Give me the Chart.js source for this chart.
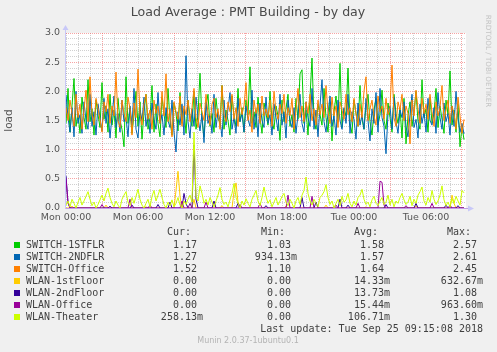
<!DOCTYPE html>
<html>
<head>
<meta charset="utf-8">
<title>Load Average : PMT Building - by day</title>
<script src="https://cdn.jsdelivr.net/npm/chart.js@4.4.0/dist/chart.umd.min.js"></script>
<style>
  html, body { margin: 0; padding: 0; background: #f0f0f0; overflow: hidden; }
  canvas { display: block; }
</style>
</head>
<body>
<canvas id="loadChart" width="497" height="352"></canvas>
<script>
// one sample every 10 minutes, x is hours since Mon 00:00
const sampleStep = 1 / 6;

const seriesNames = ["SWITCH-1STFLR", "SWITCH-2NDFLR", "SWITCH-Office", "WLAN-1stFloor", "WLAN-2ndFloor", "WLAN-Office", "WLAN-Theater"];
const seriesColors = ["#00cc00", "#0066b3", "#ff8000", "#ffcc00", "#330099", "#990099", "#ccff00"];

const switch1stFlr = [
  1.45,2.05,1.30,1.75,2.22,1.40,1.62,1.28,1.90,1.55,1.35,2.20,1.48,1.70,1.25,1.85,1.60,1.38,2.15,1.52,
  1.75,1.30,1.95,1.42,1.68,1.20,1.88,1.50,1.35,1.05,2.25,1.45,1.72,1.28,1.60,2.00,1.40,1.82,1.18,1.65,
  1.95,1.35,1.55,2.10,1.30,1.78,1.45,1.22,1.90,1.60,1.38,2.05,1.50,1.25,1.80,1.62,1.32,1.98,1.45,1.70,
  1.28,1.85,1.55,1.40,2.00,1.35,1.60,2.31,1.50,1.22,1.75,1.95,1.40,1.62,1.30,1.88,1.55,1.45,2.10,1.35,
  1.68,1.50,1.25,1.92,1.58,1.40,2.05,1.48,1.72,1.30,1.85,1.60,2.42,1.45,1.65,1.38,1.90,1.55,1.28,1.80,
  1.62,1.42,2.00,1.50,1.35,1.75,1.58,1.16,1.85,1.48,1.70,1.95,1.40,1.60,1.30,1.88,1.52,2.30,2.37,1.45,
  1.68,1.25,1.90,2.57,1.50,1.35,1.78,1.60,1.42,2.05,1.55,1.30,1.82,1.15,1.65,1.92,1.48,2.48,1.38,1.70,
  1.58,2.40,1.45,1.28,1.85,1.62,1.40,2.10,1.52,1.35,1.75,1.95,1.48,1.25,1.68,1.88,1.42,1.60,2.02,1.50,
  1.35,1.80,1.55,1.30,1.95,1.62,1.45,1.72,1.20,1.88,1.10,1.58,1.82,1.40,1.65,2.00,1.48,1.35,2.20,1.55,
  1.70,1.30,1.90,1.45,1.62,2.05,1.38,1.75,1.52,1.28,1.85,1.60,2.35,1.42,1.68,1.30,1.78,1.05,1.40,1.17
];
const switch2ndFlr = [
  1.94,1.55,1.30,1.72,1.22,2.00,1.45,1.60,1.28,1.82,1.50,1.35,1.95,1.40,1.65,1.25,1.78,1.55,1.32,1.88,
  1.45,1.70,1.20,1.58,1.92,1.38,1.62,1.30,1.85,1.48,1.55,1.22,1.75,1.42,2.05,1.35,1.20,1.68,1.50,1.90,
  1.40,1.62,1.28,1.80,1.52,1.35,1.98,1.45,1.60,1.25,1.72,1.50,1.38,1.85,1.30,0.96,1.65,1.42,1.78,1.25,
  2.61,1.48,1.20,1.70,1.40,1.90,1.55,1.32,1.62,1.12,1.82,1.45,1.58,1.28,1.95,1.38,1.65,1.50,1.22,1.85,
  1.42,1.70,1.98,1.35,1.55,1.28,1.88,1.48,1.62,1.30,1.75,1.52,1.40,2.02,1.35,1.68,1.22,1.80,1.50,1.38,
  1.90,1.45,1.60,1.25,1.78,1.55,1.32,1.95,1.42,1.65,1.20,1.85,1.50,1.38,1.72,1.28,1.60,1.95,1.45,1.30,
  1.82,1.55,1.40,2.05,1.35,1.68,1.22,1.75,2.20,1.48,1.30,1.62,1.92,1.40,1.58,1.25,1.85,1.50,1.35,1.72,
  1.45,1.95,1.28,1.65,1.52,1.18,1.80,1.42,1.60,1.35,1.88,1.50,1.15,1.70,1.45,1.98,1.30,2.05,1.55,1.40,
  0.93,1.62,1.75,1.35,1.90,1.48,1.28,1.68,1.55,1.82,1.40,1.22,1.60,1.95,1.38,1.52,1.20,1.78,1.45,1.65,
  1.30,1.88,1.50,1.42,1.72,1.28,1.98,1.55,1.35,1.80,1.48,1.62,1.25,1.75,1.40,2.00,1.55,1.30,1.45,1.27
];
const switchOffice = [
  1.72,1.50,1.85,1.62,1.40,1.95,1.55,1.78,1.35,1.68,2.02,1.48,2.25,1.60,1.42,1.88,1.70,1.52,1.30,1.82,
  1.65,1.95,1.45,1.75,1.58,2.33,1.50,1.38,1.85,1.62,1.48,1.90,1.70,1.25,1.80,1.55,2.38,1.60,1.42,1.78,
  1.95,1.52,1.68,1.35,1.85,1.62,1.75,1.45,2.00,1.58,2.30,1.48,1.70,1.22,1.82,1.65,1.52,1.92,1.40,1.75,
  1.60,1.85,1.48,1.72,2.05,1.55,1.38,1.80,1.65,1.50,1.95,1.62,1.42,1.78,1.88,1.55,1.70,1.35,2.10,1.60,
  1.48,1.82,1.65,1.95,1.52,1.72,1.40,1.88,1.60,1.75,2.15,1.50,1.68,1.30,1.85,1.62,1.78,1.45,1.92,1.58,
  1.70,1.55,1.85,1.40,2.00,1.65,1.52,1.78,1.62,1.95,1.45,1.72,1.58,1.88,1.35,1.68,2.05,1.55,1.75,1.48,
  1.82,1.62,1.95,1.50,1.70,1.42,1.85,1.60,1.78,1.55,2.10,1.65,1.45,1.90,1.58,1.75,1.38,1.82,1.68,1.52,
  1.95,1.60,1.72,1.48,1.88,1.62,1.40,1.78,1.55,2.00,2.25,1.50,1.70,1.85,1.58,1.42,1.92,1.65,1.75,1.52,
  1.88,1.60,1.72,2.45,1.55,1.40,1.82,1.68,1.95,1.50,1.75,1.62,1.10,1.85,1.58,2.02,1.70,1.45,1.88,1.62,
  1.78,1.52,1.95,1.65,1.40,1.82,1.58,1.72,2.10,1.50,1.68,1.85,1.45,1.75,1.62,1.35,1.90,1.58,1.28,1.52
];
const wlan1stFloor = [
  0,0,0,0.03,0,0,0,0,0,0,0,0,0,0,0,0,0,0,0,0,
  0.05,0,0,0,0,0,0,0,0,0,0,0,0,0,0,0,0,0,0,0,
  0.02,0,0,0,0,0,0,0,0,0,0,0,0,0,0,0.30,0.63,0.20,0,0,
  0,0,0,0,0.15,0,0,0,0,0,0,0,0,0,0,0,0,0,0.04,0,
  0,0,0,0,0.28,0.43,0.10,0,0,0,0,0,0,0,0,0,0,0,0,0,
  0,0,0,0,0,0,0,0,0,0,0.03,0,0,0,0,0,0,0,0,0,
  0,0,0,0,0,0,0,0,0,0,0.05,0,0,0,0,0,0,0,0,0,
  0,0,0,0,0,0,0,0,0,0,0.02,0,0,0,0,0,0,0,0,0,
  0,0,0,0,0,0,0,0,0,0,0,0,0,0,0,0.04,0,0,0,0,
  0,0,0,0,0,0,0,0,0,0,0,0,0,0.22,0.08,0,0,0,0,0
];
const wlan2ndFloor = [
  0.55,0.10,0,0,0,0,0,0,0,0,0,0,0,0,0,0,0,0,0,0,
  0,0,0.03,0,0,0,0,0,0,0,0,0,0,0.05,0,0,0,0,0,0,
  0,0,0,0,0,0,0.06,0,0,0,0,0,0.10,0,0,0,0,0,0,0.25,
  0.08,0,0,0,1.08,0.15,0,0,0,0,0,0,0,0,0.12,0,0,0,0,0,
  0,0,0,0,0,0,0.08,0,0,0,0,0,0,0,0,0,0,0,0,0,
  0.04,0,0,0,0,0,0,0,0,0,0,0,0,0,0,0,0,0,0.18,0,
  0,0,0,0,0,0.10,0,0,0,0,0,0,0,0,0,0,0,0.15,0,0,
  0,0.05,0,0,0,0,0,0,0,0,0,0,0,0,0,0,0,0,0,0,
  0.06,0,0,0,0,0,0,0,0,0,0,0,0,0,0,0.08,0,0,0,0,
  0,0,0,0,0,0,0,0,0,0,0.05,0,0,0,0,0,0.04,0,0,0
];
const wlanOffice = [
  0.50,0.08,0,0,0,0,0,0,0,0,0,0,0,0,0,0,0,0,0.06,0,
  0,0,0,0,0,0,0,0,0,0,0,0,0.15,0,0,0,0,0,0,0,
  0,0,0.05,0,0,0,0,0,0,0,0,0,0,0,0,0,0,0,0.12,0,
  0,0,0.08,0,0,0,0,0,0,0,0.10,0,0,0,0,0,0,0,0,0,
  0,0,0,0,0,0,0,0.06,0,0,0,0,0,0,0,0,0,0.08,0,0,
  0,0,0,0,0,0,0,0,0,0,0,0.22,0,0,0,0,0,0,0,0,
  0,0,0,0.20,0,0,0,0,0,0,0,0,0,0,0,0.05,0,0,0,0,
  0,0,0,0,0,0,0.08,0,0,0,0,0,0,0,0,0,0,0.46,0.44,0.05,
  0,0,0,0,0,0,0,0,0,0,0.04,0,0,0,0,0,0,0,0,0,
  0,0,0,0.08,0,0,0,0,0,0,0,0,0.05,0,0,0,0,0,0,0
];
const wlanTheater = [
  0.05,0.12,0.02,0.15,0.08,0.00,0.10,0.18,0.05,0.12,0.20,0.28,0.15,0.04,0.10,0.00,0.06,0.14,0.22,0.12,
  0.25,0.34,0.18,0.08,0.02,0.12,0.05,0.00,0.15,0.22,0.28,0.10,0.04,0.18,0.08,0.20,0.32,0.15,0.05,0.00,
  0.08,0.15,0.02,0.20,0.30,0.12,0.22,0.32,0.18,0.06,0.00,0.10,0.04,0.14,0.02,0.08,0.18,0.05,0.00,0.12,
  0.06,0.15,0.22,0.10,1.30,0.20,0.12,0.38,0.25,0.08,0.15,0.05,0.18,0.10,0.02,0.12,0.22,0.35,0.15,0.06,
  0.10,0.02,0.14,0.25,0.42,0.18,0.08,0.00,0.12,0.05,0.16,0.08,0.02,0.15,0.22,0.30,0.12,0.04,0.18,0.36,
  0.20,0.08,0.14,0.02,0.10,0.18,0.05,0.12,0.20,0.25,0.10,0.04,0.15,0.08,0.00,0.12,0.18,0.06,0.22,0.30,
  0.53,0.25,0.12,0.05,0.15,0.08,0.02,0.18,0.22,0.28,0.40,0.18,0.06,0.12,0.00,0.08,0.15,0.04,0.20,0.10,
  0.14,0.25,0.08,0.02,0.12,0.05,0.18,0.22,0.32,0.15,0.06,0.10,0.02,0.14,0.20,0.08,0.04,0.12,0.18,0.06,
  0.10,0.22,0.05,0.15,0.02,0.12,0.08,0.18,0.25,0.14,0.06,0.10,0.20,0.04,0.15,0.08,0.22,0.28,0.36,0.12,
  0.05,0.18,0.10,0.30,0.15,0.06,0.12,0.22,0.38,0.14,0.04,0.10,0.02,0.16,0.08,0.20,0.12,0.05,0.30,0.26
];
const seriesValues = [switch1stFlr, switch2ndFlr, switchOffice, wlan1stFloor, wlan2ndFloor, wlanOffice, wlanTheater];

// legend figures as printed under the graph
const curValues = ["1.17", "1.27", "1.52", "0.00", "0.00", "0.00", "258.13m"];
const minValues = ["1.03", "934.13m", "1.10", "0.00", "0.00", "0.00", "0.00"];
const avgValues = ["1.58", "1.57", "1.64", "14.33m", "13.73m", "15.44m", "106.71m"];
const maxValues = ["2.57", "2.61", "2.45", "632.67m", "1.08", "963.60m", "1.30"];

const timeLabels = ["Mon 00:00", "Mon 06:00", "Mon 12:00", "Mon 18:00", "Tue 00:00", "Tue 06:00"];
const xMaxHours = 400 * 5 / 60;
const yTicks = [0, 0.1, 0.2, 0.3, 0.4, 0.5, 0.6, 0.7, 0.8, 0.9, 1.0, 1.1, 1.2, 1.3, 1.4, 1.5, 1.6, 1.7, 1.8, 1.9, 2.0, 2.1, 2.2, 2.3, 2.4, 2.5, 2.6, 2.7, 2.8, 2.9, 3.0];

const gridMinor = "rgba(120, 120, 120, 0.35)";
const gridMajor = "rgba(240, 90, 90, 0.55)";

function isHalfStep(v) {
  return Math.abs(v * 2 - Math.round(v * 2)) < 1e-6;
}

const muninFrame = {
  id: "muninFrame",
  beforeDraw(chart) {
    const { ctx, chartArea: a } = chart;
    ctx.save();
    ctx.fillStyle = "#f0f0f0";
    ctx.fillRect(0, 0, chart.width, chart.height);
    ctx.fillStyle = "#ffffff";
    ctx.fillRect(a.left, a.top, a.right - a.left, a.bottom - a.top);
    ctx.restore();
  },
  afterDatasetsDraw(chart) {
    const { ctx, chartArea: a } = chart;
    const x0 = Math.round(a.left) - 0.5;
    const y0 = Math.round(a.bottom) + 0.5;
    ctx.save();
    ctx.lineWidth = 1;
    ctx.strokeStyle = "#c8c8f8";
    ctx.beginPath();
    ctx.moveTo(x0, y0);
    ctx.lineTo(x0, a.top - 4);
    ctx.stroke();
    ctx.strokeStyle = "#c49ae8";
    ctx.beginPath();
    ctx.moveTo(x0, y0);
    ctx.lineTo(a.right + 2, y0);
    ctx.stroke();
    // arrow heads
    ctx.fillStyle = "#c8c8f8";
    ctx.beginPath();
    ctx.moveTo(x0 - 3, a.top - 3);
    ctx.lineTo(x0 + 3, a.top - 3);
    ctx.lineTo(x0, a.top - 8);
    ctx.closePath();
    ctx.fill();
    ctx.beginPath();
    ctx.moveTo(a.right + 2, y0 - 3);
    ctx.lineTo(a.right + 2, y0 + 3);
    ctx.lineTo(a.right + 8, y0);
    ctx.closePath();
    ctx.fill();
    ctx.restore();
  },
  afterDraw(chart) {
    const ctx = chart.ctx;
    ctx.save();
    // title
    ctx.fillStyle = "#4a4a4a";
    ctx.font = "12.6px 'DejaVu Sans'";
    ctx.textAlign = "center";
    ctx.textBaseline = "middle";
    ctx.fillText("Load Average : PMT Building - by day", 248, 13);

    // rrdtool credit, vertical
    ctx.save();
    ctx.translate(488, 61);
    ctx.rotate(Math.PI / 2);
    ctx.fillStyle = "#c4c4c4";
    ctx.font = "7.2px 'DejaVu Sans'";
    ctx.fillText("RRDTOOL / TOBI OETIKER", 0, 0);
    ctx.restore();

    // legend table
    ctx.font = "10px 'DejaVu Sans Mono'";
    ctx.fillStyle = "#404040";
    ctx.textAlign = "left";
    ctx.fillText("Cur:", 167, 232);
    ctx.fillText("Min:", 261, 232);
    ctx.fillText("Avg:", 354, 232);
    ctx.fillText("Max:", 447, 232);
    seriesNames.forEach((name, i) => {
      const y = 245 + i * 12;
      ctx.fillStyle = seriesColors[i];
      ctx.fillRect(14, y - 3, 6, 6);
      ctx.fillStyle = "#404040";
      ctx.textAlign = "left";
      ctx.fillText(name, 26, y);
      ctx.textAlign = "right";
      const cols = [[curValues, 203], [minValues, 297], [avgValues, 390], [maxValues, 483]];
      cols.forEach(([vals, right]) => {
        const v = vals[i];
        ctx.fillText(v.endsWith("m") ? v : v + " ", right, y);
      });
    });
    ctx.textAlign = "right";
    ctx.fillText("Last update: Tue Sep 25 09:15:08 2018", 483, 329);

    ctx.textAlign = "center";
    ctx.fillStyle = "#b4b4b4";
    ctx.font = "8px 'DejaVu Sans'";
    ctx.fillText("Munin 2.0.37-1ubuntu0.1", 248, 341);
    ctx.restore();
  },
};

function buildDatasets() {
  return seriesNames.map((name, i) => ({
    label: name,
    data: seriesValues[i].map((v, k) => ({ x: k * sampleStep, y: v })),
    borderColor: seriesColors[i],
    backgroundColor: seriesColors[i],
    borderWidth: 1,
    pointRadius: 0,
    tension: 0,
    fill: false,
    order: seriesNames.length - i,
  }));
}

const tickFont = { family: "'DejaVu Sans'", size: 9.5 };

new Chart(document.getElementById("loadChart").getContext("2d"), {
  type: "line",
  data: { datasets: buildDatasets() },
  options: {
    responsive: false,
    animation: false,
    events: [],
    layout: { padding: { left: 0, top: 33, right: 31, bottom: 124 } },
    plugins: { legend: { display: false }, tooltip: { enabled: false } },
    scales: {
      x: {
        type: "linear",
        min: 0,
        max: xMaxHours,
        afterBuildTicks: (scale) => {
          const t = [];
          for (let h = 0; h <= 33; h++) t.push({ value: h });
          scale.ticks = t;
        },
        afterFit: (scale) => { scale.height = 20; },
        border: { display: false, dash: [1, 1] },
        grid: {
          drawTicks: false,
          color: (c) => (c.tick && c.tick.value % 6 === 3 ? gridMajor : gridMinor),
        },
        ticks: {
          autoSkip: false,
          maxRotation: 0,
          padding: 4,
          color: "#555555",
          font: tickFont,
          callback: (v) => (v % 6 === 0 ? timeLabels[v / 6] : ""),
        },
      },
      y: {
        type: "linear",
        min: 0,
        max: 3,
        afterBuildTicks: (scale) => {
          scale.ticks = yTicks.map((v) => ({ value: v }));
        },
        afterFit: (scale) => { scale.width = 66; },
        border: { display: false, dash: [1, 1] },
        grid: {
          drawTicks: false,
          color: (c) => (c.tick && isHalfStep(c.tick.value) ? gridMajor : gridMinor),
        },
        ticks: {
          autoSkip: false,
          padding: 6,
          color: "#555555",
          font: tickFont,
          callback: (v) => (isHalfStep(v) ? v.toFixed(1) : ""),
        },
        title: {
          display: true,
          text: "load",
          color: "#555555",
          font: { family: "'DejaVu Sans'", size: 10.5 },
          padding: { top: 3, bottom: 0 },
        },
      },
    },
  },
  plugins: [muninFrame],
});
</script>
</body>
</html>
